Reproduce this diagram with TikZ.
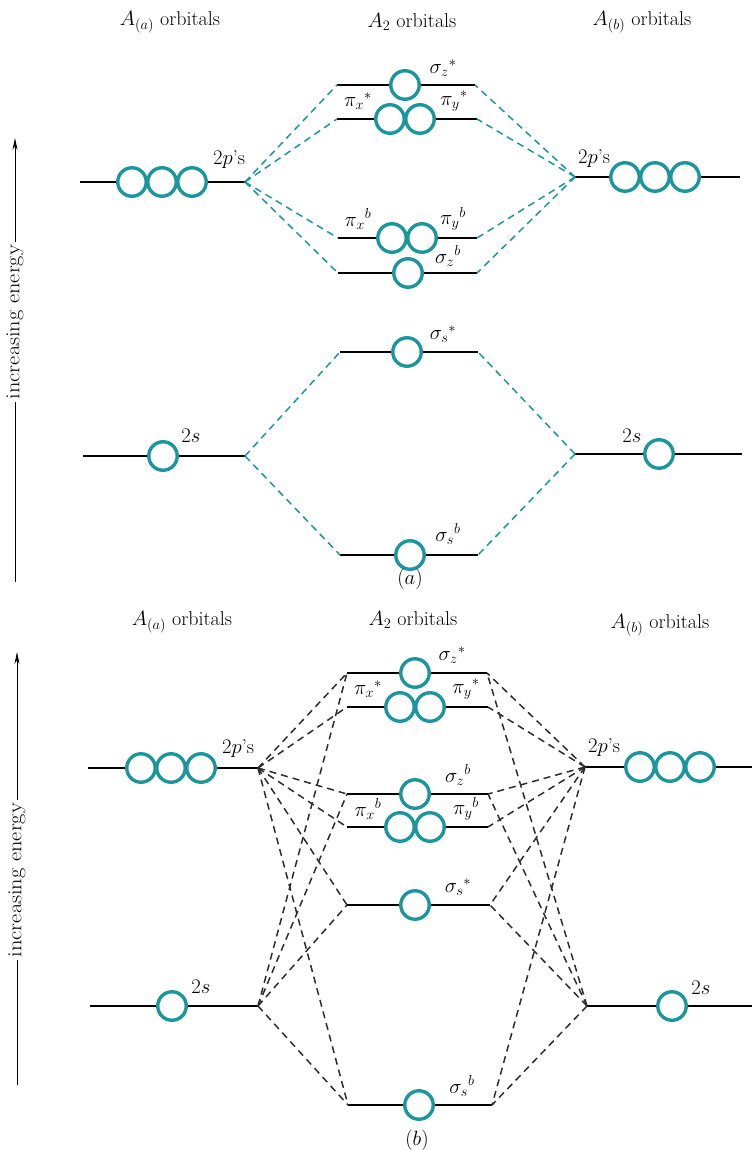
\documentclass[tikz,border=0pt]{standalone}
\usepackage{graphicx}
\usetikzlibrary{arrows.meta}
\definecolor{orbteal}{RGB}{28,150,158}
\definecolor{dashgray}{RGB}{45,45,45}
\newcommand\mylevel[4]{\coordinate (#1-l) at (#2,#4); \coordinate (#1-r) at (#3,#4); \draw[level] (#1-l) -- (#1-r);}
\begin{document}
\begin{tikzpicture}[x=1pt,y=-1pt,
  level/.style={line width=2.4pt, black},
  orb/.style={circle, draw=orbteal, fill=white, line width=3.4pt, minimum size=28.5pt, inner sep=0pt},
  corra/.style={orbteal, line width=1.5pt, dash pattern=on 7pt off 5pt},
  corrb/.style={dashgray, line width=1.5pt, dash pattern=on 7pt off 5pt},
  lab/.style={font=\fontsize{20}{22}\selectfont, inner sep=0pt},
  head/.style={font=\fontsize{20}{22}\selectfont, inner sep=0pt},
  energy/.style={rotate=90, fill=white, font=\fontsize{20}{22}\selectfont, inner sep=3pt},
  uparrow/.style={line width=1pt, -{Stealth[length=12pt,width=5pt]}},
]
\useasboundingbox (0,0) rectangle (752,1150);
\fill[white] (0,0) rectangle (752,1150);

% ================= (a) =================
\node[head] (ha1) at (170,22) {$A_{(a)}$ orbitals};
\node[head] (ha2) at (412,22) {$A_2$ orbitals};
\node[head] (ha3) at (642,22) {$A_{(b)}$ orbitals};

\coordinate (ea-bot) at (15,582);
\coordinate (ea-top) at (15,138);
\draw[uparrow] (ea-bot) -- (ea-top);
\node[energy] (ea) at (15,322) {\scalebox{1.12}[1]{increasing energy}};

\mylevel{aL2p}{80}{245}{182}
\mylevel{aR2p}{575}{740}{177}
\mylevel{aL2s}{83}{245}{456}
\mylevel{aR2s}{575}{742}{454}
\mylevel{aSzs}{337}{475}{85}
\mylevel{aPis}{337}{477}{119}
\mylevel{aPib}{338}{477}{238}
\mylevel{aSzb}{338}{477}{273}
\mylevel{aSss}{340}{478}{352}
\mylevel{aSsb}{340}{478}{555}

\foreach \m in {aSzs,aPis,aPib,aSzb} {
  \draw[corra] (aL2p-r) -- (\m-l);
  \draw[corra] (aR2p-l) -- (\m-r);
}
\foreach \m in {aSss,aSsb} {
  \draw[corra] (aL2s-r) -- (\m-l);
  \draw[corra] (aR2s-l) -- (\m-r);
}

\node[orb] (a1) at (132,182) {};
\node[orb] (a2) at (162,182) {};
\node[orb] (a3) at (192,182) {};
\node[orb] (a4) at (625,177) {};
\node[orb] (a5) at (655,177) {};
\node[orb] (a6) at (685,177) {};
\node[orb] (a7) at (163,456) {};
\node[orb] (a8) at (659,454) {};
\node[orb] (a9) at (405,85) {};
\node[orb] (a10) at (390,119) {};
\node[orb] (a11) at (420,119) {};
\node[orb] (a12) at (392,238) {};
\node[orb] (a13) at (422,238) {};
\node[orb] (a14) at (408,273) {};
\node[orb] (a15) at (407,352) {};
\node[orb] (a16) at (410,555) {};

\node[lab] (la1) at (229,160) {$2p$'s};
\node[lab] (la2) at (594,159) {$2p$'s};
\node[lab] (la3) at (191,436) {$2s$};
\node[lab] (la4) at (632,436) {$2s$};
\node[lab] (la5) at (443,68) {$\sigma_z{}^*$};
\node[lab] (la6) at (358,101) {$\pi_x{}^*$};
\node[lab] (la7) at (454,101) {$\pi_y{}^*$};
\node[lab] (la8) at (358,219) {$\pi_x{}^b$};
\node[lab] (la9) at (453,219) {$\pi_y{}^b$};
\node[lab] (la10) at (448,256) {$\sigma_z{}^b$};
\node[lab] (la11) at (443,334) {$\sigma_s{}^*$};
\node[lab] (la12) at (448,534) {$\sigma_s{}^b$};
\node[lab] (capa) at (410,579) {$(a)$};

% ================= (b) =================
\node[head] (hb1) at (182,622) {$A_{(a)}$ orbitals};
\node[head] (hb2) at (413,620) {$A_2$ orbitals};
\node[head] (hb3) at (660,625) {$A_{(b)}$ orbitals};

\coordinate (eb-bot) at (17,1085);
\coordinate (eb-top) at (17,652);
\draw[uparrow] (eb-bot) -- (eb-top);
\node[energy] (eb) at (17,880) {\scalebox{1.12}[1]{increasing energy}};

\mylevel{bL2p}{88}{258}{768}
\mylevel{bR2p}{585}{752}{767}
\mylevel{bL2s}{90}{258}{1006}
\mylevel{bR2s}{587}{752}{1006}
\mylevel{bSzs}{347}{487}{673}
\mylevel{bPis}{347}{488}{707}
\mylevel{bSzb}{347}{488}{794}
\mylevel{bPib}{347}{488}{827}
\mylevel{bSss}{347}{490}{905}
\mylevel{bSsb}{348}{492}{1105}

\foreach \m in {bSzs,bPis,bSzb,bPib,bSss,bSsb} {
  \draw[corrb] (bL2p-r) -- (\m-l);
  \draw[corrb] (bR2p-l) -- (\m-r);
}
\foreach \m in {bSzs,bSzb,bSss,bSsb} {
  \draw[corrb] (bL2s-r) -- (\m-l);
  \draw[corrb] (bR2s-l) -- (\m-r);
}

\node[orb] (b1) at (141,768) {};
\node[orb] (b2) at (171,768) {};
\node[orb] (b3) at (201,768) {};
\node[orb] (b4) at (640,767) {};
\node[orb] (b5) at (670,767) {};
\node[orb] (b6) at (700,767) {};
\node[orb] (b7) at (172,1006) {};
\node[orb] (b8) at (672,1006) {};
\node[orb] (b9) at (415,673) {};
\node[orb] (b10) at (400,707) {};
\node[orb] (b11) at (430,707) {};
\node[orb] (b12) at (415,794) {};
\node[orb] (b13) at (400,827) {};
\node[orb] (b14) at (430,827) {};
\node[orb] (b15) at (415,905) {};
\node[orb] (b16) at (419,1105) {};

\node[lab] (lb1) at (238,749) {$2p$'s};
\node[lab] (lb2) at (604,748) {$2p$'s};
\node[lab] (lb3) at (201,987) {$2s$};
\node[lab] (lb4) at (701,988) {$2s$};
\node[lab] (lb5) at (452,655) {$\sigma_z{}^*$};
\node[lab] (lb6) at (368,689) {$\pi_x{}^*$};
\node[lab] (lb7) at (466,689) {$\pi_y{}^*$};
\node[lab] (lb8) at (458,775) {$\sigma_z{}^b$};
\node[lab] (lb9) at (368,809) {$\pi_x{}^b$};
\node[lab] (lb10) at (466,809) {$\pi_y{}^b$};
\node[lab] (lb11) at (458,887) {$\sigma_s{}^*$};
\node[lab] (lb12) at (462,1086) {$\sigma_s{}^b$};
\node[lab] (capb) at (417,1140) {$(b)$};
\end{tikzpicture}
\end{document}
